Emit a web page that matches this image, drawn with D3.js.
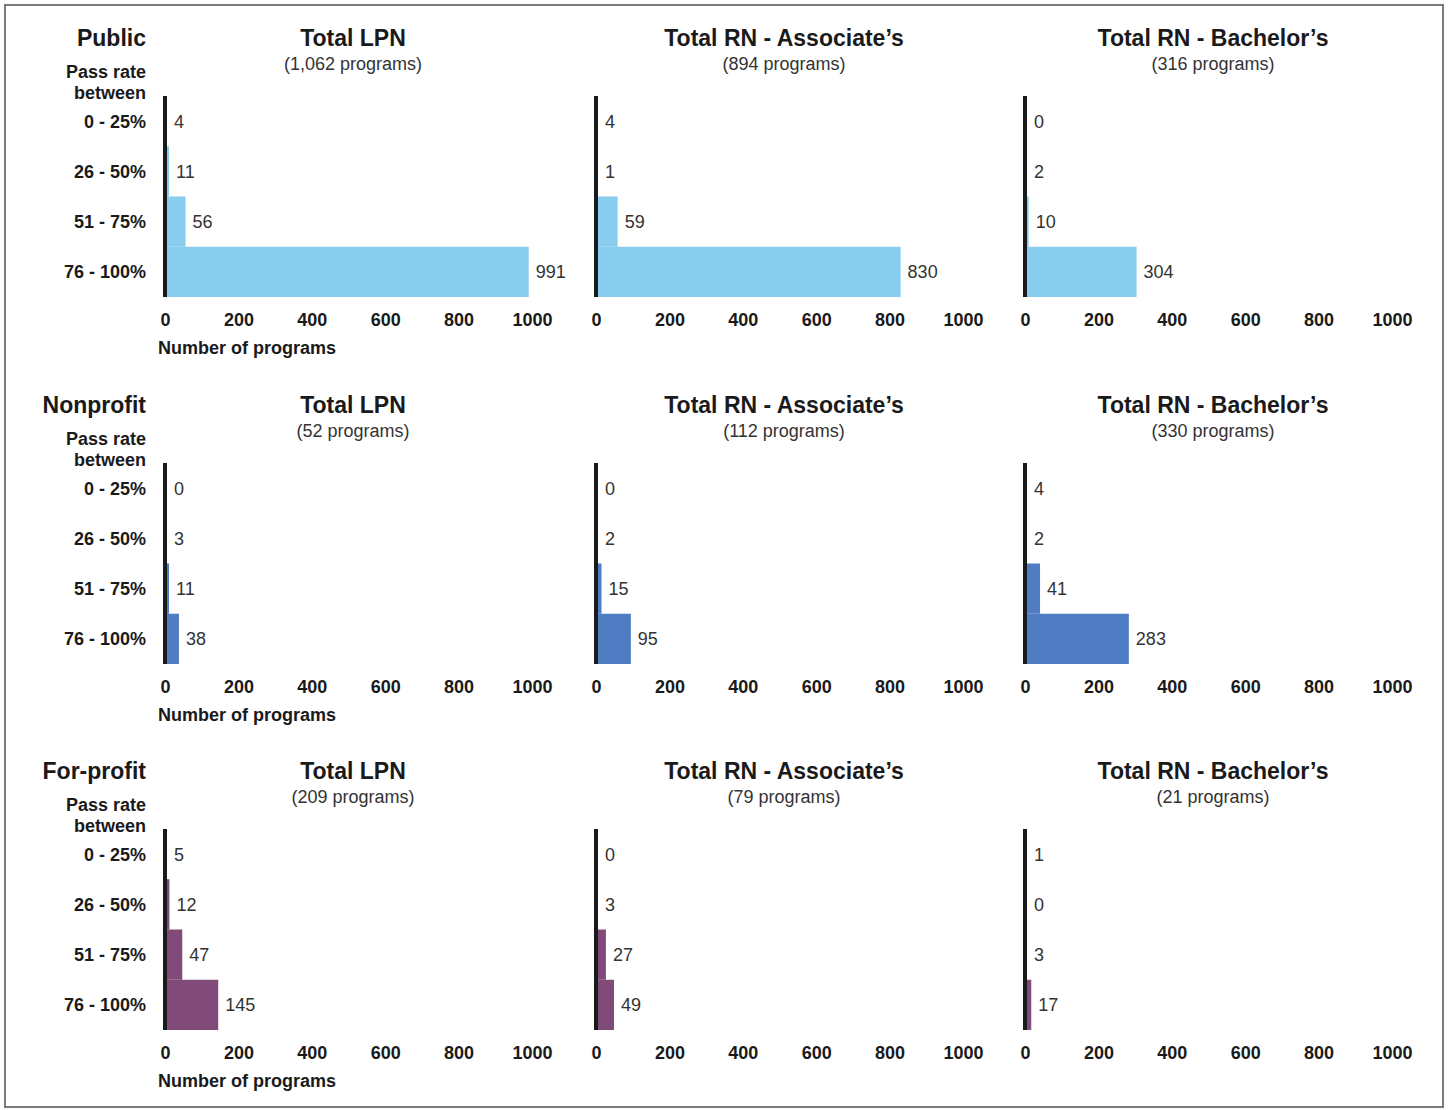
<!DOCTYPE html>
<html>
<head>
<meta charset="utf-8">
<script src="https://cdn.jsdelivr.net/npm/d3@7"></script>
<style>
  html, body { margin: 0; padding: 0; background: #fff; }
  svg { display: block; font-family: "Liberation Sans", Arial, Helvetica, sans-serif; }
</style>
</head>
<body>
<svg id="chart" width="1449" height="1110"></svg>
<script>
// ---- data ----
const sectors = ["Public", "Nonprofit", "For-profit"];
const programTypes = ["Total LPN", "Total RN - Associate\u2019s", "Total RN - Bachelor\u2019s"];
const passBins = ["0 - 25%", "26 - 50%", "51 - 75%", "76 - 100%"];
const tickValues = [0, 200, 400, 600, 800, 1000];

const publicTotals = [1062, 894, 316];
const nonprofitTotals = [52, 112, 330];
const forprofitTotals = [209, 79, 21];

const publicLPN = [4, 11, 56, 991];
const publicRNAssoc = [4, 1, 59, 830];
const publicRNBach = [0, 2, 10, 304];

const nonprofitLPN = [0, 3, 11, 38];
const nonprofitRNAssoc = [0, 2, 15, 95];
const nonprofitRNBach = [4, 2, 41, 283];

const forprofitLPN = [5, 12, 47, 145];
const forprofitRNAssoc = [0, 3, 27, 49];
const forprofitRNBach = [1, 0, 3, 17];

const sectorColors = ["#88cdee", "#4f7cc3", "#804a79"];

const totals = [publicTotals, nonprofitTotals, forprofitTotals];
const values = [
  [publicLPN, publicRNAssoc, publicRNBach],
  [nonprofitLPN, nonprofitRNAssoc, nonprofitRNBach],
  [forprofitLPN, forprofitRNAssoc, forprofitRNBach]
];

// ---- layout ----
const svg = d3.select("#chart");
const colX = [165, 596, 1025];
const rowTop = [96, 463, 829];
const plotW = 367;
const plotH = 201;
const labelRight = 146;
const dark = "#1a1a1a";
const textGray = "#333";

// outer frame
svg.append("rect")
  .attr("x", 5).attr("y", 5).attr("width", 1438).attr("height", 1102)
  .attr("fill", "none").attr("stroke", "#7a7a7a").attr("stroke-width", 2);

function baseline(cy, fs) { return cy + fs * 0.36; }

sectors.forEach((sector, r) => {
  const top = rowTop[r];
  const y = d3.scaleBand().domain(passBins).range([top, top + plotH]).padding(0);

  // left labels
  const lg = svg.append("g").attr("text-anchor", "end").attr("fill", dark).attr("font-weight", "bold");
  lg.append("text").attr("x", labelRight).attr("y", baseline(top - 58, 23))
    .attr("font-size", 23).text(sector);
  lg.append("text").attr("x", labelRight).attr("y", baseline(top - 24, 18))
    .attr("font-size", 18).text("Pass rate");
  lg.append("text").attr("x", labelRight).attr("y", baseline(top - 3, 18))
    .attr("font-size", 18).text("between");
  passBins.forEach(b => {
    lg.append("text").attr("x", labelRight).attr("y", baseline(y(b) + y.bandwidth() / 2, 18))
      .attr("font-size", 18).text(b);
  });

  programTypes.forEach((pt, c) => {
    const x0 = colX[c];
    const x = d3.scaleLinear().domain([0, 1000]).range([x0, x0 + plotW]);
    const g = svg.append("g");
    const vals = values[r][c];
    const data = passBins.map((b, i) => ({ bin: b, v: vals[i] }));

    // title + subtitle
    g.append("text").attr("x", x0 + 188).attr("y", baseline(top - 58, 23))
      .attr("text-anchor", "middle").attr("font-size", 23).attr("font-weight", "bold")
      .attr("fill", dark).text(pt);
    g.append("text").attr("x", x0 + 188).attr("y", baseline(top - 32, 18))
      .attr("text-anchor", "middle").attr("font-size", 18)
      .attr("fill", textGray).text("(" + d3.format(",")(totals[r][c]) + " programs)");

    // bars
    g.selectAll("rect.bar").data(data).enter().append("rect")
      .attr("class", "bar")
      .attr("x", x(0))
      .attr("y", d => y(d.bin))
      .attr("width", d => x(d.v) - x(0))
      .attr("height", y.bandwidth())
      .attr("fill", sectorColors[r]);

    // value labels
    g.selectAll("text.val").data(data).enter().append("text")
      .attr("class", "val")
      .attr("x", d => Math.max(x(d.v) + 7, x(0) + 9))
      .attr("y", d => baseline(y(d.bin) + y.bandwidth() / 2, 18))
      .attr("font-size", 18).attr("fill", textGray)
      .text(d => d.v);

    // vertical axis line
    g.append("line")
      .attr("x1", x(0)).attr("x2", x(0))
      .attr("y1", top).attr("y2", top + plotH)
      .attr("stroke", dark).attr("stroke-width", 4);

    // x axis (tick labels only)
    const ax = g.append("g")
      .attr("transform", `translate(0,${top + plotH})`)
      .call(d3.axisBottom(x).tickValues(tickValues).tickSize(0).tickPadding(0).tickFormat(d3.format("d")));
    ax.select(".domain").remove();
    ax.selectAll("text")
      .attr("dy", null)
      .attr("y", baseline(23, 18))
      .attr("font-size", 18).attr("font-weight", "bold")
      .attr("font-family", "\"Liberation Sans\", Arial, Helvetica, sans-serif")
      .attr("fill", dark);

    if (c === 0) {
      g.append("text").attr("x", x0 - 7).attr("y", baseline(top + plotH + 51, 18))
        .attr("font-size", 18).attr("font-weight", "bold").attr("fill", dark)
        .text("Number of programs");
    }
  });
});
</script>
</body>
</html>
